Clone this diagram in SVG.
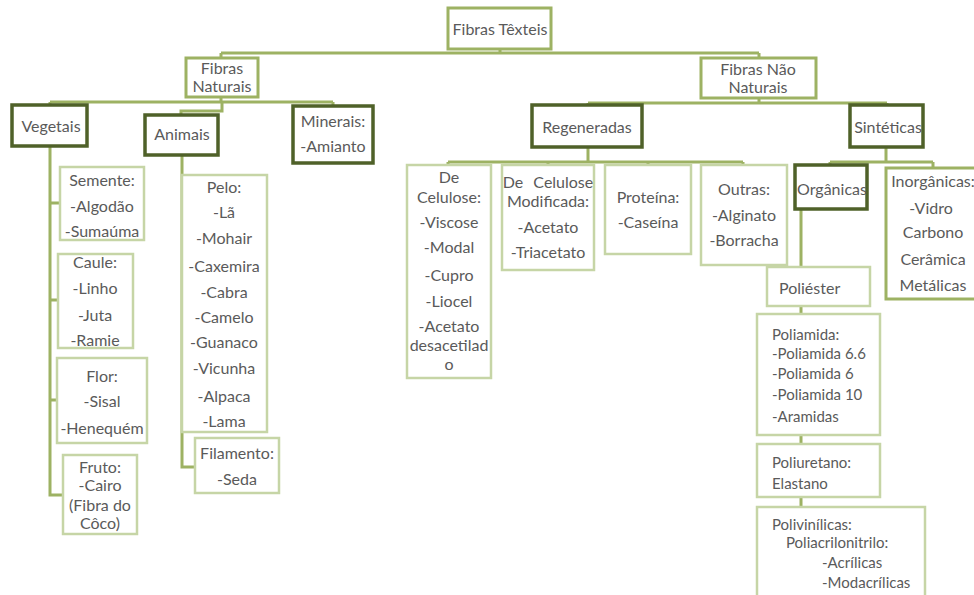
<svg xmlns="http://www.w3.org/2000/svg" width="974" height="595" viewBox="0 0 974 595">
<style>
text{font-family:Lato,"Liberation Sans",sans-serif;font-size:16px;fill:#5a5a5a}
.c{text-anchor:middle}
.s{font-size:15px}
.lt{fill:#fff;stroke:#c6d5a6;stroke-width:2.5}
.md{fill:#fff;stroke:#9db263;stroke-width:3}
.dk{fill:#fff;stroke:#4f6129;stroke-width:3.5}
.cn{fill:none;stroke:#9db263;stroke-width:3}
</style>
<rect width="974" height="595" fill="#fff"/>
<g id="connectors">
<path class="cn" d="M500 49V53M221 53H759M221 53V58M759 53V58"/>
<path class="cn" d="M221 97V102M50 102H333M50 102V105M333 102V107M222 102V111H181V115"/>
<path class="cn" d="M759 98V103M588 103H887M588 103V105M887 103V105"/>
<path class="cn" d="M50 146V495H63M50 203H60M50 300H58M50 400H57"/>
<path class="cn" d="M182 155V467H195"/>
<path class="cn" d="M588 147V162M448 162H743M448 162V165M548 162V165M648 162V165M743 162V165"/>
<path class="cn" d="M886 147V162M830 162H933M830 162V165M933 162V168"/>
<path class="cn" d="M801 209V267M801 306V314M801 435V444M801 497V507"/>
</g>
<g id="n-fibras-texteis"><rect class="md" x="448" y="8" width="103" height="41"/><text class="c" x="500" y="35">Fibras Têxteis</text></g>
<g id="n-fibras-naturais"><rect class="md" x="186" y="58" width="72" height="39"/><text class="c" x="222" y="74">Fibras</text><text class="c" x="222" y="92">Naturais</text></g>
<g id="n-fibras-nao-naturais"><rect class="md" x="701" y="58" width="115" height="40"/><text class="c" x="758" y="75">Fibras Não</text><text class="c" x="758" y="93">Naturais</text></g>
<g id="n-vegetais"><rect class="dk" x="12" y="105" width="75" height="41"/><text class="c" x="51" y="132">Vegetais</text></g>
<g id="n-animais"><rect class="dk" x="145" y="115" width="73" height="40"/><text class="c" x="182" y="140">Animais</text></g>
<g id="n-minerais"><rect class="dk" x="293" y="106" width="80" height="57"/><text class="c" x="333" y="127">Minerais:</text><text class="c" x="333" y="152">-Amianto</text></g>
<g id="n-regeneradas"><rect class="dk" x="532" y="105" width="110" height="42"/><text class="c" x="587" y="133">Regeneradas</text></g>
<g id="n-sinteticas"><rect class="dk" x="850" y="105" width="73" height="42"/><text class="c" x="888" y="133">Sintéticas</text></g>
<g id="n-semente"><rect class="lt" x="60" y="167" width="84" height="73"/><text class="c" x="102" y="186">Semente:</text><text class="c" x="102" y="212">-Algodão</text><text class="c" x="102" y="237">-Sumaúma</text></g>
<g id="n-caule"><rect class="lt" x="58" y="254" width="75" height="94"/><text class="c" x="95" y="268">Caule:</text><text class="c" x="95" y="294">-Linho</text><text class="c" x="95" y="321">-Juta</text><text class="c" x="95" y="346">-Ramie</text></g>
<g id="n-flor"><rect class="lt" x="57" y="358" width="90" height="85"/><text class="c" x="102" y="382">Flor:</text><text class="c" x="102" y="407">-Sisal</text><text class="c" x="102" y="434">-Henequém</text></g>
<g id="n-fruto"><rect class="lt" x="63" y="455" width="74" height="79"/><text class="c" x="100" y="473">Fruto:</text><text class="c" x="100" y="491">-Cairo</text><text class="c" x="100" y="511">(Fibra do</text><text class="c" x="100" y="529">Côco)</text></g>
<g id="n-pelo"><rect class="lt" x="182" y="175" width="85" height="257"/><text class="c" x="224" y="193">Pelo:</text><text class="c" x="224" y="218">-Lã</text><text class="c" x="224" y="244">-Mohair</text><text class="c" x="224" y="272">-Caxemira</text><text class="c" x="224" y="298">-Cabra</text><text class="c" x="224" y="323">-Camelo</text><text class="c" x="224" y="348">-Guanaco</text><text class="c" x="224" y="374">-Vicunha</text><text class="c" x="224" y="402">-Alpaca</text><text class="c" x="224" y="427">-Lama</text></g>
<g id="n-filamento"><rect class="lt" x="195" y="438" width="84" height="55"/><text class="c" x="237" y="459">Filamento:</text><text class="c" x="237" y="485">-Seda</text></g>
<g id="n-de-celulose"><rect class="lt" x="407" y="165" width="84" height="213"/><text class="c" x="449" y="183">De</text><text class="c" x="449" y="203">Celulose:</text><text class="c" x="449" y="228">-Viscose</text><text class="c" x="449" y="253">-Modal</text><text class="c" x="449" y="281">-Cupro</text><text class="c" x="449" y="307">-Liocel</text><text class="c" x="449" y="332">-Acetato</text><text class="c" x="449" y="351">desacetilad</text><text class="c" x="449" y="370">o</text></g>
<g id="n-celulose-modificada"><rect class="lt" x="502" y="165" width="92" height="105"/><text class="c" x="548" y="188" word-spacing="6">De Celulose</text><text class="c" x="548" y="207">Modificada:</text><text class="c" x="548" y="233">-Acetato</text><text class="c" x="548" y="258">-Triacetato</text></g>
<g id="n-proteina"><rect class="lt" x="605" y="165" width="86" height="89"/><text class="c" x="648" y="203">Proteína:</text><text class="c" x="648" y="228">-Caseína</text></g>
<g id="n-outras"><rect class="lt" x="701" y="165" width="86" height="100"/><text class="c" x="744" y="195">Outras:</text><text class="c" x="744" y="221">-Alginato</text><text class="c" x="744" y="246">-Borracha</text></g>
<g id="n-organicas"><rect class="dk" x="795" y="165" width="72" height="44"/><text class="c" x="832" y="195">Orgânicas</text></g>
<g id="n-inorganicas"><rect class="md" x="886" y="168" width="92" height="131"/><text class="c" x="933" y="187">Inorgânicas:</text><text class="c" x="931" y="214">-Vidro</text><text class="c" x="933" y="238">Carbono</text><text class="c" x="933" y="265">Cerâmica</text><text class="c" x="933" y="291">Metálicas</text></g>
<g id="n-poliester"><rect class="lt" x="767" y="267" width="103" height="39"/><text x="779" y="294">Poliéster</text></g>
<g id="n-poliamida"><rect class="lt" x="757" y="314" width="123" height="121"/><text class="s" x="772" y="340">Poliamida:</text><text class="s" x="772" y="359">-Poliamida 6.6</text><text class="s" x="772" y="379">-Poliamida 6</text><text class="s" x="772" y="400">-Poliamida 10</text><text class="s" x="772" y="422">-Aramidas</text></g>
<g id="n-poliuretano"><rect class="lt" x="757" y="444" width="123" height="53"/><text class="s" x="772" y="468">Poliuretano:</text><text class="s" x="772" y="489">Elastano</text></g>
<g id="n-polivinilicas"><rect class="lt" x="757" y="507" width="168" height="100"/><text class="s" x="772" y="530">Polivinílicas:</text><text class="s" x="786" y="548">Poliacrilonitrilo:</text><text class="s" x="822" y="568">-Acrílicas</text><text class="s" x="822" y="588">-Modacrílicas</text></g>
</svg>
